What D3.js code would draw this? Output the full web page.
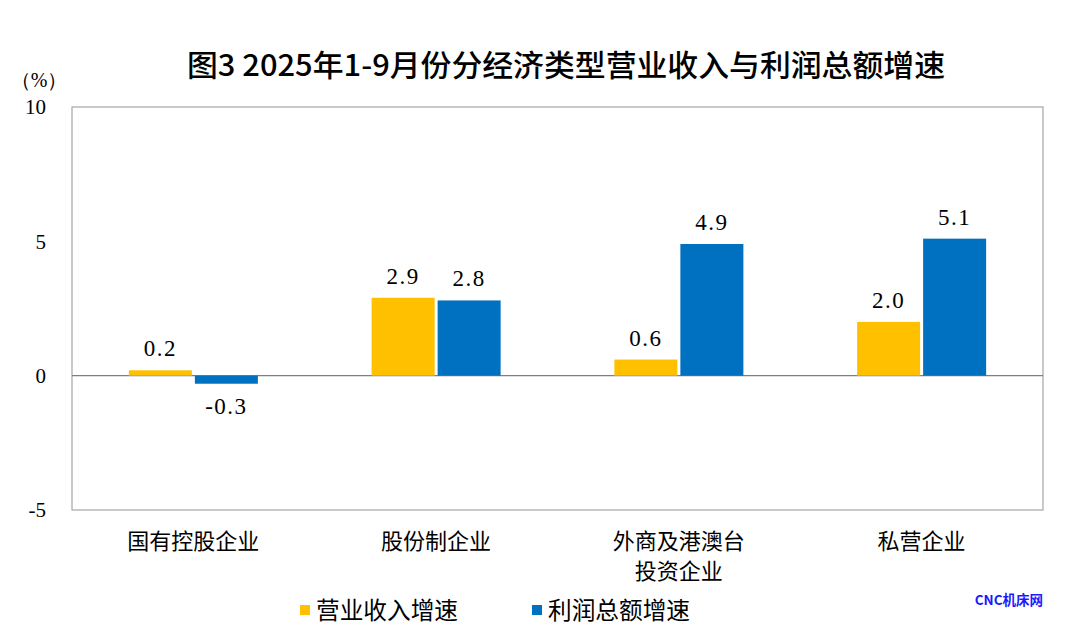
<!DOCTYPE html>
<html><head><meta charset="utf-8">
<script src="https://cdn.jsdelivr.net/npm/d3@7"></script>
<style>body{margin:0;background:#fff}</style>
</head><body>
<svg id="chart" width="1080" height="628"></svg>
<script>
const categories = [["国有控股企业"], ["股份制企业"], ["外商及港澳台", "投资企业"], ["私营企业"]];
const seriesNames = ["营业收入增速", "利润总额增速"];
const revenueGrowth = [0.2, 2.9, 0.6, 2.0];
const profitGrowth = [-0.3, 2.8, 4.9, 5.1];
const yTicks = [-5, 0, 5, 10];
const colors = ["#FFC000", "#0070C0"];

const svg = d3.select("#chart");
const m = {left: 72, right: 1043, top: 107, bottom: 510};
const x = d3.scaleBand().domain(d3.range(categories.length)).range([m.left, m.right]);
const y = d3.scaleLinear().domain([-5, 10]).range([m.bottom, m.top]);
const series = [revenueGrowth, profitGrowth];

// title
svg.append("text").attr("x", 187).attr("y", 76)
  .attr("textLength", 758).attr("lengthAdjust", "spacingAndGlyphs")
  .style("font-family", "'Noto Sans CJK SC'").style("font-weight", 500).style("font-size", "30px")
  .attr("fill", "#000").text("图3 2025年1-9月份分经济类型营业收入与利润总额增速");

// frame
svg.append("rect").attr("x", m.left).attr("y", m.top).attr("width", m.right - m.left).attr("height", m.bottom - m.top)
  .attr("fill", "none").attr("stroke", "#a6a6a6").attr("stroke-width", 1.2);

// y axis labels
const yAxis = d3.axisLeft(y).tickValues(yTicks).tickSize(0).tickPadding(26).tickFormat(d => String(d));
const ga = svg.append("g").attr("transform", `translate(${m.left},0)`).call(yAxis);
ga.select(".domain").remove();
ga.selectAll("text").style("font-family", "'Liberation Serif'").style("font-size", "21px").attr("fill", "#000");
svg.append("text").attr("x", 39).attr("y", 87).attr("text-anchor", "middle")
  .style("font-family", "'Liberation Serif'").style("font-size", "20px").text("（%）");

// zero line
svg.append("line").attr("x1", m.left).attr("x2", m.right).attr("y1", y(0)).attr("y2", y(0))
  .attr("stroke", "#7f7f7f").attr("stroke-width", 1.2);

const bw = 63, gap = 3;
series.forEach((vals, si) => {
  const g = svg.append("g");
  vals.forEach((v, i) => {
    const cx = x(i) + x.bandwidth() / 2;
    const bx = si === 0 ? cx - gap / 2 - bw : cx + gap / 2;
    g.append("rect").attr("x", bx).attr("width", bw)
      .attr("y", Math.min(y(v), y(0))).attr("height", Math.abs(y(v) - y(0)))
      .attr("fill", colors[si]);
    g.append("text").attr("x", bx + bw / 2)
      .attr("y", v >= 0 ? y(v) - 14 : y(v) + 30)
      .attr("text-anchor", "middle")
      .style("font-family", "'Liberation Serif'").style("font-size", "23px").style("letter-spacing", "1.5px")
      .attr("fill", "#000").text(v.toFixed(1));
  });
});

// category labels
categories.forEach((lines, i) => {
  const cx = x(i) + x.bandwidth() / 2;
  lines.forEach((t, li) => {
    svg.append("text").attr("x", cx).attr("y", 549 + li * 30).attr("text-anchor", "middle")
      .style("font-family", "'Noto Sans CJK SC'").style("font-size", "22px").attr("fill", "#000").text(t);
  });
});

// legend
const legX = [300, 532];
seriesNames.forEach((n, i) => {
  svg.append("rect").attr("x", legX[i]).attr("y", 605).attr("width", 10).attr("height", 10).attr("fill", colors[i]);
  svg.append("text").attr("x", legX[i] + 16).attr("y", 619)
    .attr("textLength", 142).attr("lengthAdjust", "spacingAndGlyphs")
    .style("font-family", "'Noto Sans CJK SC'").style("font-size", "24px").attr("fill", "#000").text(n);
});

// watermark
svg.append("text").attr("x", 1043).attr("y", 605).attr("text-anchor", "end")
  .style("font-family", "'Noto Sans CJK SC'").style("font-weight", 700).style("font-size", "13.5px")
  .attr("fill", "#1a1aff").text("CNC机床网");
</script>
</body></html>
